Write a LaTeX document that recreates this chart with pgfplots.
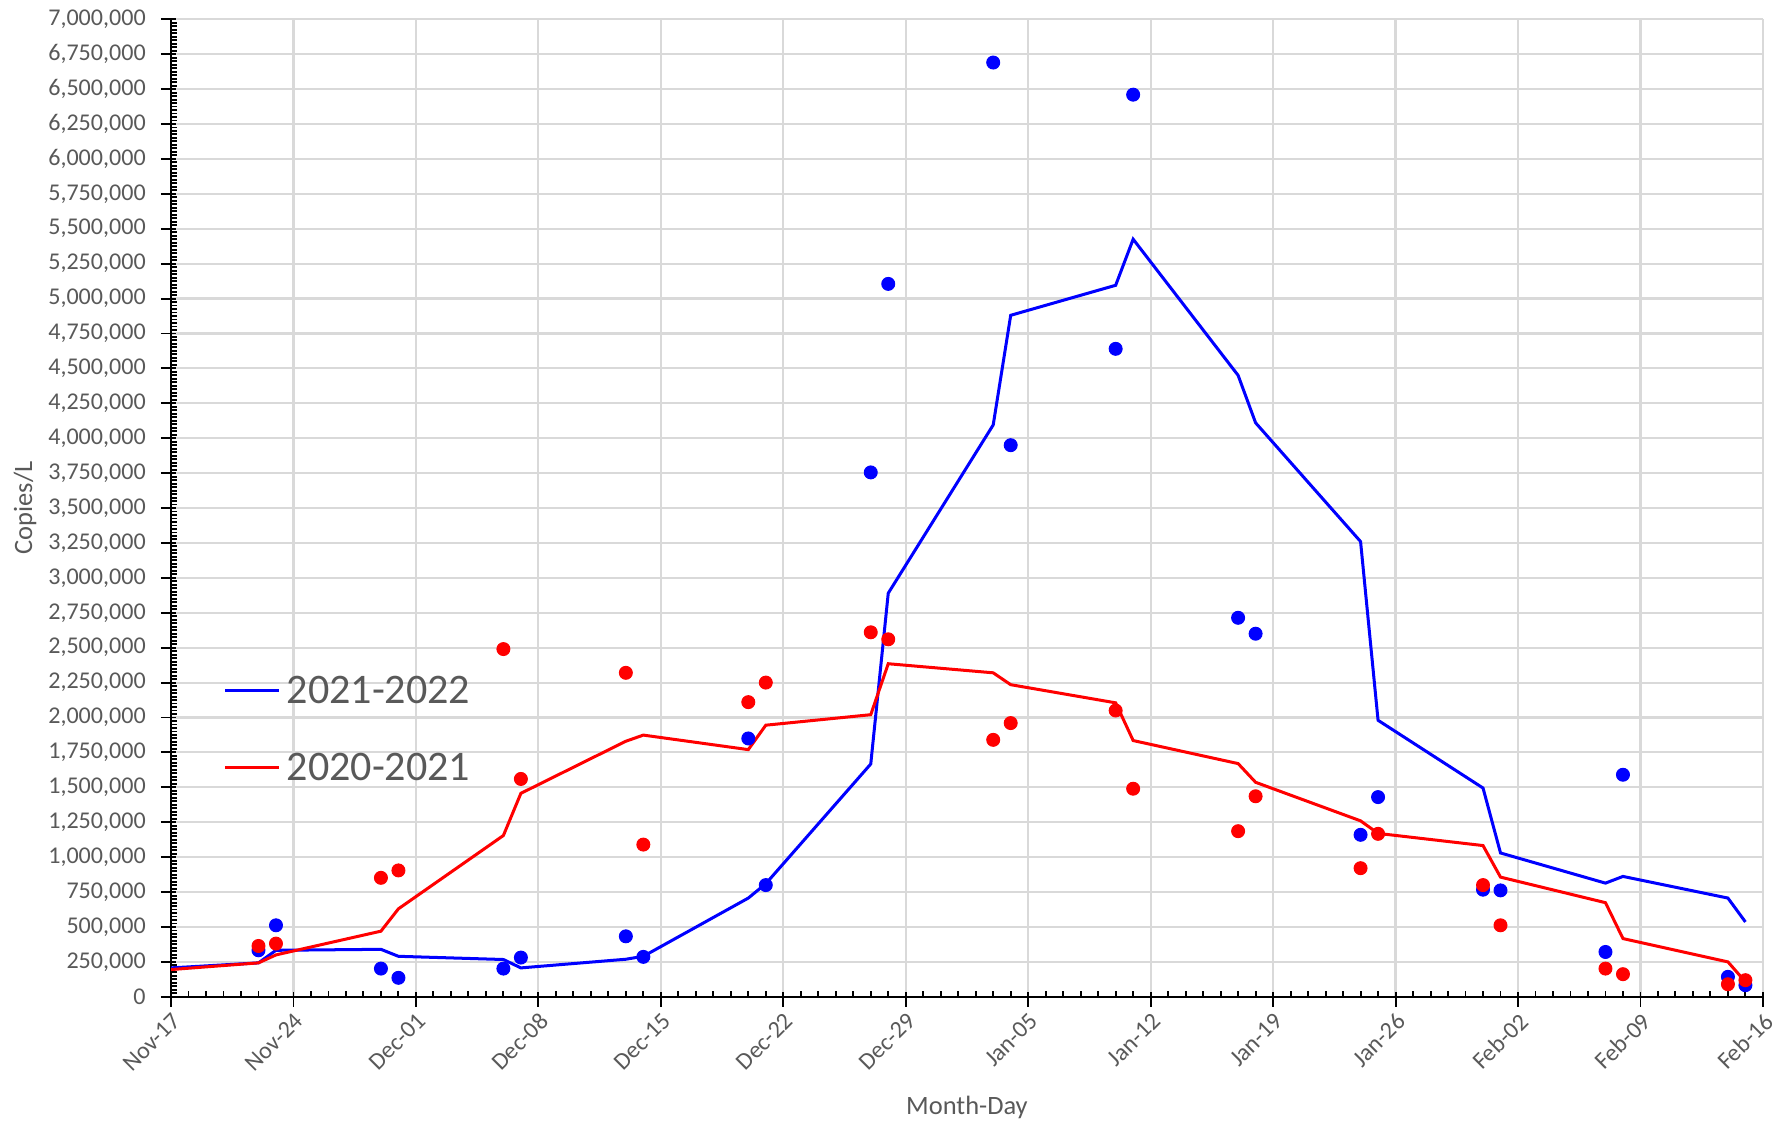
\documentclass[border=0pt]{standalone}
\usepackage{fontspec}
\setmainfont{Carlito}
\usepackage{pgfplots}
\usepackage{pgfplotstable}
\pgfplotsset{compat=1.18}

\definecolor{txtgray}{HTML}{595959}
\definecolor{gridgray}{HTML}{D9D9D9}

% days after Nov-17, copies/L
\pgfplotstableread{
day val
0 207000
5 243000
6 333000
12 340000
13 290000
19 267000
20 207000
26 269000
27 290000
33 707000
34 810000
40 1667000
41 2890000
47 4095000
48 4880000
54 5095000
55 5425000
61 4450000
62 4110000
68 3260000
69 1980000
75 1495000
76 1030000
82 814000
83 862000
89 707000
90 536000
}\bluelinetab

\pgfplotstableread{
day val
0 195000
5 243000
6 300000
12 470000
13 630000
19 1155000
20 1457000
26 1830000
27 1874000
33 1770000
34 1945000
40 2020000
41 2385000
47 2320000
48 2235000
54 2105000
55 1835000
61 1670000
62 1536000
68 1260000
69 1170000
75 1083000
76 857000
82 674000
83 417000
89 250000
90 107000
}\redlinetab

\pgfplotstableread{
day val
5 333000
6 512000
12 202000
13 136000
19 202000
20 281000
26 433000
27 286000
33 1850000
34 800000
40 3755000
41 5105000
47 6690000
48 3950000
54 4640000
55 6460000
61 2714000
62 2600000
68 1160000
69 1430000
75 767000
76 762000
82 321000
83 1590000
89 143000
90 83000
}\bluedots

\pgfplotstableread{
day val
5 364000
6 381000
12 852000
13 905000
19 2490000
20 1560000
26 2320000
27 1090000
33 2110000
34 2250000
40 2610000
41 2560000
47 1840000
48 1960000
54 2050000
55 1490000
61 1186000
62 1436000
68 921000
69 1167000
75 800000
76 512000
82 202000
83 162000
89 90000
90 119000
}\reddots

\begin{document}
\begin{tikzpicture}
\path[use as bounding box] (-71.1pt,-52.5pt) rectangle (668.9pt,414.4pt);
\begin{axis}[
    at={(0,0)}, anchor=south west,
    scale only axis,
    width=661.8pt, height=406.4pt,
    xmin=0, xmax=91,
    ymin=0, ymax=7000000,
    axis lines*=left,
    axis line style={black, line width=1pt},
    xtick={0,7,...,91},
    xticklabels={Nov-17,Nov-24,Dec-01,Dec-08,Dec-15,Dec-22,Dec-29,Jan-05,Jan-12,Jan-19,Jan-26,Feb-02,Feb-09,Feb-16},
    minor x tick num=6,
    ytick distance=250000,
    minor y tick num=9,
    scaled y ticks=false,
    grid=major,
    major grid style={gridgray, line width=0.9pt},
    tick align=inside,
    major tick length=6.2pt,
    minor tick length=2.5pt,
    tick style={black, line width=0.8pt},
    major x tick style={yshift=-4.2pt},
    major y tick style={xshift=-4.2pt},
    tick label style={font=\fontsize{10}{12}\selectfont, text=txtgray},
    xticklabel style={yshift=-4.5pt, rotate=45, anchor=north east, inner sep=1pt},
    yticklabel style={xshift=-7pt},
    /pgf/number format/.cd, fixed, precision=0, 1000 sep={,}, assume math mode=true,
    /pgfplots/.cd,
    xlabel={Month-Day},
    ylabel={Copies/L},
    xlabel style={at={(axis description cs:0.5,-0.1127)}, anchor=center, font=\fontsize{11}{13}\selectfont, text=txtgray},
    ylabel style={at={(axis description cs:-0.0917,0.5)}, anchor=center, font=\fontsize{11}{13}\selectfont, text=txtgray},
    legend style={draw=none, fill=none, at={(axis description cs:0.0327,0.3273)}, anchor=north west,
        font=\fontsize{17.5}{20}\selectfont, text=txtgray, inner sep=0pt, row sep=20.9pt, column sep=2.5pt,
        nodes={inner sep=0pt, text height=11pt, text depth=0pt}},
    legend cell align=left,
    legend image code/.code={\draw[#1] (0pt,0pt) -- (22.5pt,0pt);},
]
\addplot[blue, line width=1.25pt] table[x=day, y=val] {\bluelinetab};
\addlegendentry{2021-2022}
\addplot[red, line width=1.25pt] table[x=day, y=val] {\redlinetab};
\addlegendentry{2020-2021}
\addplot[only marks, mark=*, mark size=2.7pt, blue, forget plot] table[x=day, y=val] {\bluedots};
\addplot[only marks, mark=*, mark size=2.7pt, red, forget plot] table[x=day, y=val] {\reddots};
\end{axis}
\end{tikzpicture}
\end{document}
